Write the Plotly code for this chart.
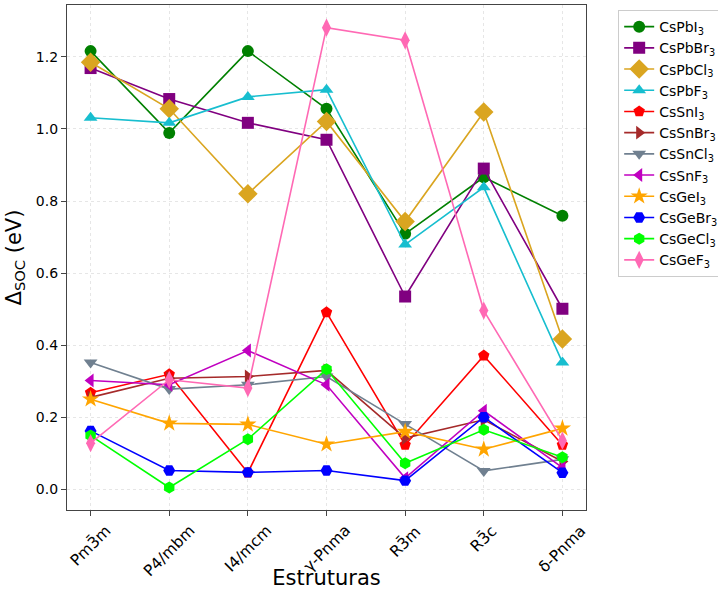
import plotly.graph_objects as go

# Crystal structures (x-axis categories)
estruturas = ["Pm3\u0304m", "P4/mbm", "I4/mcm", "\u03b3-Pnma", "R3\u0304m", "R3\u0304c", "\u03b4-Pnma"]

# Spin-orbit splitting Δ_SOC (eV) for each compound
cspbi3 = [1.216, 0.989, 1.216, 1.056, 0.709, 0.866, 0.759]
cspbbr3 = [1.169, 1.083, 1.017, 0.970, 0.535, 0.890, 0.501]
cspbcl3 = [1.185, 1.056, 0.820, 1.021, 0.743, 1.047, 0.417]
cspbf3 = [1.031, 1.017, 1.089, 1.109, 0.679, 0.838, 0.352]
cssni3 = [0.268, 0.319, 0.046, 0.491, 0.123, 0.371, 0.123]
cssnbr3 = [0.255, 0.308, 0.313, 0.330, 0.142, 0.193, 0.077]
cssncl3 = [0.352, 0.278, 0.290, 0.313, 0.181, 0.051, 0.083]
cssnf3 = [0.302, 0.290, 0.385, 0.290, 0.031, 0.218, 0.060]
csgei3 = [0.250, 0.183, 0.180, 0.125, 0.160, 0.111, 0.169]
csgebr3 = [0.162, 0.052, 0.047, 0.052, 0.024, 0.200, 0.046]
csgecl3 = [0.149, 0.005, 0.139, 0.333, 0.072, 0.165, 0.089]
csgef3 = [0.128, 0.304, 0.281, 1.281, 1.246, 0.496, 0.135]

series = [
    ("CsPbI<sub>3</sub>", cspbi3, "green", "circle", 12),
    ("CsPbBr<sub>3</sub>", cspbbr3, "purple", "square", 12),
    ("CsPbCl<sub>3</sub>", cspbcl3, "goldenrod", "diamond", 15),
    ("CsPbF<sub>3</sub>", cspbf3, "#17becf", "triangle-up", 12),
    ("CsSnI<sub>3</sub>", cssni3, "red", "pentagon", 12),
    ("CsSnBr<sub>3</sub>", cssnbr3, "brown", "triangle-right", 12),
    ("CsSnCl<sub>3</sub>", cssncl3, "slategray", "triangle-down", 12),
    ("CsSnF<sub>3</sub>", cssnf3, "#c000c0", "triangle-left", 12),
    ("CsGeI<sub>3</sub>", csgei3, "orange", "star", 13),
    ("CsGeBr<sub>3</sub>", csgebr3, "blue", "hexagon2", 12),
    ("CsGeCl<sub>3</sub>", csgecl3, "lime", "hexagon", 12),
    ("CsGeF<sub>3</sub>", csgef3, "hotpink", "diamond-tall", 13),
]

x_idx = list(range(len(estruturas)))

fig = go.Figure()
for name, vals, color, symbol, size in series:
    fig.add_trace(go.Scatter(
        x=x_idx, y=vals, name=name, mode="lines+markers",
        line=dict(color=color, width=1.6),
        marker=dict(symbol=symbol, size=size, color=color, line=dict(width=0)),
    ))

# Rotated category labels, centred under each tick
for i, lab in enumerate(estruturas):
    fig.add_annotation(
        x=i, y=0, xref="x", yref="paper", text=lab, showarrow=False,
        textangle=-45, xanchor="center", yanchor="top", yshift=-9,
        font=dict(size=15.5),
    )

font_family = "DejaVu Sans, sans-serif"
fig.update_layout(
    width=718, height=594,
    margin=dict(l=67, r=132, t=5, b=84, autoexpand=False),
    plot_bgcolor="white", paper_bgcolor="white",
    font=dict(family=font_family, color="black", size=13),
    showlegend=True,
    legend=dict(
        x=1.062, y=0.99, xanchor="left", yanchor="top",
        bgcolor="white", bordercolor="#cccccc", borderwidth=1,
        font=dict(size=14, family=font_family),
        tracegroupgap=0, itemwidth=30,
    ),
    xaxis=dict(
        range=[-0.3, 6.3], tickmode="array", tickvals=x_idx,
        ticktext=[""] * len(x_idx),
        showline=True, linecolor="#444", linewidth=1.2, mirror=True,
        ticks="outside", ticklen=5, tickcolor="#444",
        showgrid=True, gridcolor="#e6e6e6", griddash="dot", gridwidth=1,
        zeroline=False,
        title=dict(text="Estruturas", font=dict(size=21), standoff=52),
    ),
    yaxis=dict(
        range=[-0.0575, 1.344], tickmode="array",
        tickvals=[0, 0.2, 0.4, 0.6, 0.8, 1.0, 1.2],
        ticktext=["0.0", "0.2", "0.4", "0.6", "0.8", "1.0", "1.2"],
        tickfont=dict(size=14),
        showline=True, linecolor="#444", linewidth=1.2, mirror=True,
        ticks="outside", ticklen=5, tickcolor="#444",
        showgrid=True, gridcolor="#e6e6e6", griddash="dot", gridwidth=1,
        zeroline=False,
        title=dict(text="\u0394<sub>SOC</sub> (eV)", font=dict(size=21), standoff=8),
    ),
)

fig.write_html("out.html")
